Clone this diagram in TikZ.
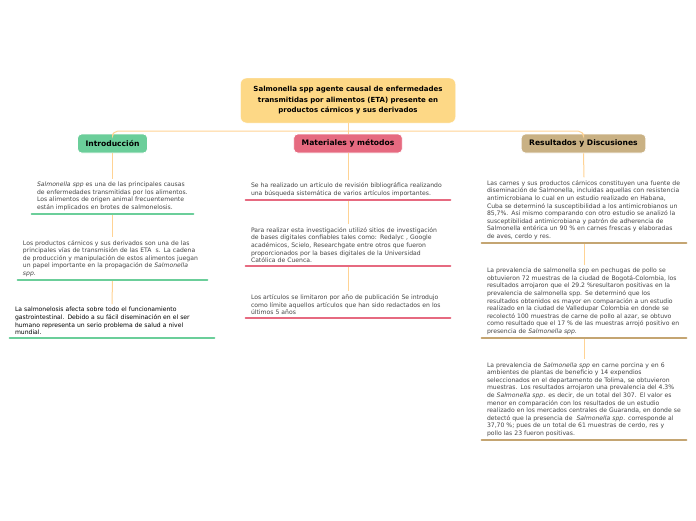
\documentclass[tikz,border=0pt]{standalone}
\usepackage{fontspec}
\setmainfont{DejaVu Sans}
\usepackage{tikz}
\usetikzlibrary{positioning,calc}
\usepackage{xcolor}
\definecolor{rootfill}{HTML}{FDD886}
\definecolor{link}{HTML}{FFD394}
\definecolor{introc}{HTML}{6BCE9A}
\definecolor{metc}{HTML}{E66A80}
\definecolor{resc}{HTML}{C9B184}
\definecolor{resline}{HTML}{C4A572}
\definecolor{txtc}{HTML}{444444}

\begin{document}
\begin{tikzpicture}[x=1pt, y=-1pt,
  head/.style={draw=white, rounded corners=4pt, line width=0.8pt, minimum height=19pt,
               inner xsep=8pt, font=\fontsize{7.6}{9}\selectfont\bfseries},
  txt/.style={text width=#1, align=left, inner xsep=5pt, inner ysep=3pt, anchor=south,
              text=txtc, font=\fontsize{6.1}{7.6}\selectfont},
  conn/.style={link, line width=1pt},
  uline/.style={line width=2.6pt, line cap=round}
]
  \useasboundingbox (0,0) rectangle (696,520);

  \node[fill=rootfill, draw=white, rounded corners=6pt, minimum width=215pt, minimum height=45pt,
        align=center, font=\fontsize{7}{10.5}\selectfont\bfseries] (root) at (348,100.5) {
    Salmonella spp agente causal de enfermedades\\
    transmitidas por alimentos (ETA) presente en\\
    productos cárnicos y sus derivados
  };

  \node[head, fill=introc] (intro) at (112.5,143.5) {Introducción};
  \node[head, fill=metc] (mat) at (348,143.5) {Materiales y métodos};
  \node[head, fill=resc] (res) at (583.5,143.5) {Resultados y Discusiones};

  \draw[conn] (root.south) -- (mat.north);
  \draw[conn, rounded corners=5pt] (intro.north) |- ($(root.south)+(0,8)$) -| (res.north);

  % Introduccion
  \node[txt=151pt] (i1) at (112.5,214) {
    \textit{Salmonella spp} es una de las principales causas\\
    de enfermedades transmitidas por los alimentos.\\
    Los alimentos de origen animal frecuentemente\\
    están implicados en brotes de salmonelosis.};
  \node[txt=179pt] (i2) at (112.5,280) {
    Los productos cárnicos y sus derivados son una de las\\
    principales vías de transmisión de las ETA\ \ s. La cadena\\
    de producción y manipulación de estos alimentos juegan\\
    un papel importante en la propagación de \textit{Salmonella}\\
    \textit{spp}.};
  \node[txt=194pt, text=black] (i3) at (112,338) {
    La salmonelosis afecta sobre todo el funcionamiento\\
    gastrointestinal. Debido a su fácil diseminación en el ser\\
    humano representa un serio problema de salud a nivel\\
    mundial.};

  % Materiales y metodos
  \node[txt=194pt] (m1) at (348,200) {
    Se ha realizado un artículo de revisión bibliográfica realizando\\
    una búsqueda sistemática de varios artículos importantes.};
  \node[txt=194pt] (m2) at (348,266) {
    Para realizar esta investigación utilizó sitios de investigación\\
    de bases digitales confiables tales como: Redalyc , Google\\
    académicos, Scielo, Researchgate entre otros que fueron\\
    proporcionados por la bases digitales de la Universidad\\
    Católica de Cuenca.};
  \node[txt=194pt] (m3) at (348,318) {
    Los artículos se limitaron por año de publicación Se introdujo\\
    como límite aquellos artículos que han sido redactados en los\\
    últimos 5 años};

  % Resultados
  \node[txt=194pt] (r1) at (584,243) {
    Las carnes y sus productos cárnicos constituyen una fuente de\\
    diseminación de Salmonella, incluidas aquellas con resistencia\\
    antimicrobiana lo cual en un estudio realizado en Habana,\\
    Cuba se determinó la susceptibilidad a los antimicrobianos un\\
    85,7\%. Así mismo comparando con otro estudio se analizó la\\
    susceptibilidad antimicrobiana y patrón de adherencia de\\
    Salmonella entérica un 90 \% en carnes frescas y elaboradas\\
    de aves, cerdo y res.};
  \node[txt=194pt] (r2) at (584,338) {
    La prevalencia de salmonella spp en pechugas de pollo se\\
    obtuvieron 72 muestras de la ciudad de Bogotá-Colombia, los\\
    resultados arrojaron que el 29.2 \%resultaron positivas en la\\
    prevalencia de salmonella spp. Se determinó que los\\
    resultados obtenidos es mayor en comparación a un estudio\\
    realizado en la ciudad de Valledupar Colombia en donde se\\
    recolectó 100 muestras de carne de pollo al azar, se obtuvo\\
    como resultado que el 17 \% de las muestras arrojó positivo en\\
    presencia de \textit{Salmonella spp}.};
  \node[txt=194pt] (r3) at (584,440) {
    La prevalencia de \textit{Salmonella spp} en carne porcina y en 6\\
    ambientes de plantas de beneficio y 14 expendios\\
    seleccionados en el departamento de Tolima, se obtuvieron\\
    muestras. Los resultados arrojaron una prevalencia del 4.3\%\\
    de \textit{Salmonella spp}. es decir, de un total del 307. El valor es\\
    menor en comparación con los resultados de un estudio\\
    realizado en los mercados centrales de Guaranda, en donde se\\
    detectó que la presencia de\ \ \textit{Salmonella spp}. corresponde al\\
    37,70 \%; pues de un total de 61 muestras de cerdo, res y\\
    pollo las 23 fueron positivas.};

  % connectors
  \draw[conn] (intro.south) -- (i1.north);
  \draw[conn] (i1.south) -- (i2.north);
  \draw[conn] (i2.south) -- (i3.north);
  \draw[conn] (mat.south) -- (m1.north);
  \draw[conn] (m1.south) -- (m2.north);
  \draw[conn] (m2.south) -- (m3.north);
  \draw[conn] (res.south) -- (r1.north);
  \draw[conn] (r1.south) -- (r2.north);
  \draw[conn] (r2.south) -- (r3.north);

  % underlines
  \foreach \n in {i1,i2,i3}
    \draw[uline, introc] (\n.south west) -- (\n.south east);
  \foreach \n in {m1,m2,m3}
    \draw[uline, metc] (\n.south west) -- (\n.south east);
  \foreach \n in {r1,r2,r3}
    \draw[uline, resline] (\n.south west) -- (\n.south east);
\end{tikzpicture}
\end{document}
